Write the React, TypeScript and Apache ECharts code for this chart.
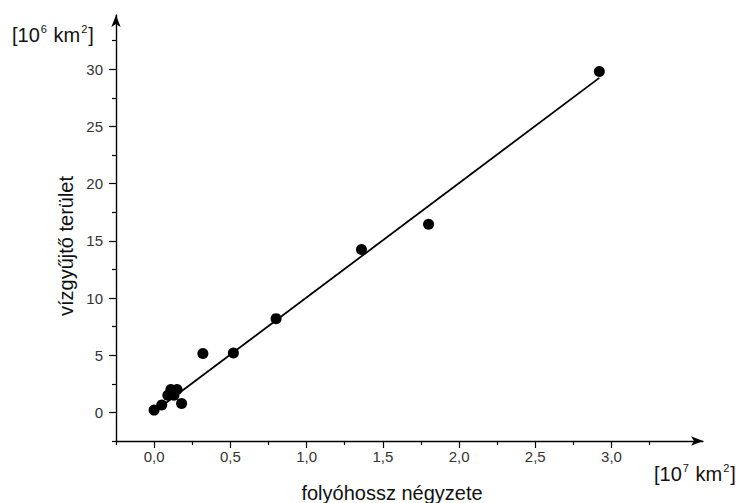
import React, { useEffect, useRef } from "react";
import * as echarts from "echarts";

// Squared river length [10^7 km^2] vs. catchment area [10^6 km^2]
const riverLengthSq = [0.0, 0.05, 0.09, 0.11, 0.15, 0.13, 0.18, 0.32, 0.52, 0.8, 1.36, 1.8, 2.92];
const catchmentArea = [0.2, 0.65, 1.5, 2.0, 2.0, 1.5, 0.78, 5.15, 5.2, 8.2, 14.25, 16.45, 29.8];

// Regression line: area = fitIntercept + fitSlope * lengthSq
const fitIntercept = 0.05;
const fitSlope = 10.0;
const fitRange = [0.0, 2.92];

// Axis ticks
const xMajorTicks = [0, 0.5, 1.0, 1.5, 2.0, 2.5, 3.0];
const xMinorTicks = [-0.25, 0.25, 0.75, 1.25, 1.75, 2.25, 2.75, 3.25];
const yMajorTicks = [0, 5, 10, 15, 20, 25, 30];
const yMinorTicks = [-2.5, 2.5, 7.5, 12.5, 17.5, 22.5, 27.5, 32.5];

const FONT = "'Liberation Sans', Arial, sans-serif";

export default function App() {
  const ref = useRef<HTMLDivElement>(null);

  useEffect(() => {
    if (!ref.current) return;
    const chart = echarts.init(ref.current, undefined, { renderer: "svg" });

    const points = riverLengthSq.map((x, i) => [x, catchmentArea[i]]);
    const fitLine = fitRange.map((x) => [x, fitIntercept + fitSlope * x]);

    const axisLineStyle = { color: "#000", width: 1.4 };
    const tickStyle = { color: "#000", width: 1.2 };
    const unitRich = {
      b: { fontFamily: FONT, fontSize: 20, fill: "#111", lineHeight: 24 },
      s: { fontFamily: FONT, fontSize: 11, fill: "#111", verticalAlign: "top", lineHeight: 24, padding: [0, 1, 0, 1] },
    };

    chart.setOption({
      animation: false,
      backgroundColor: "#fff",
      grid: { left: 116, right: 33, top: 15, bottom: 62, containLabel: false },
      xAxis: [
        {
          type: "value",
          position: "bottom",
          min: -0.25,
          max: 3.6,
          axisLine: {
            show: true,
            onZero: false,
            lineStyle: axisLineStyle,
            symbol: ["none", "arrow"],
            symbolSize: [7, 12],
          },
          axisTick: { show: true, customValues: xMinorTicks, length: 4, lineStyle: tickStyle },
          axisLabel: { show: false },
          splitLine: { show: false },
        },
        {
          type: "value",
          position: "bottom",
          offset: 0,
          min: -0.25,
          max: 3.6,
          axisLine: { show: false, onZero: false },
          axisTick: { show: true, customValues: xMajorTicks, length: 7, lineStyle: tickStyle },
          axisLabel: {
            show: true,
            customValues: xMajorTicks,
            margin: 8,
            fontFamily: FONT,
            fontSize: 15,
            color: "#333",
            formatter: (v: number) => v.toFixed(1).replace(".", ","),
          },
          splitLine: { show: false },
        },
      ],
      yAxis: [
        {
          type: "value",
          position: "left",
          min: -2.5,
          max: 34.75,
          axisLine: {
            show: true,
            onZero: false,
            lineStyle: axisLineStyle,
            symbol: ["none", "arrow"],
            symbolSize: [7, 12],
          },
          axisTick: { show: true, customValues: yMinorTicks, length: 4, lineStyle: tickStyle },
          axisLabel: { show: false },
          splitLine: { show: false },
        },
        {
          type: "value",
          position: "left",
          offset: 0,
          min: -2.5,
          max: 34.75,
          axisLine: { show: false, onZero: false },
          axisTick: { show: true, customValues: yMajorTicks, length: 7, lineStyle: tickStyle },
          axisLabel: {
            show: true,
            customValues: yMajorTicks,
            margin: 13,
            fontFamily: FONT,
            fontSize: 15,
            color: "#333",
          },
          splitLine: { show: false },
        },
      ],
      series: [
        {
          type: "line",
          data: fitLine,
          xAxisIndex: 0,
          yAxisIndex: 0,
          showSymbol: false,
          lineStyle: { color: "#000", width: 1.8 },
          z: 2,
        },
        {
          type: "scatter",
          data: points,
          xAxisIndex: 0,
          yAxisIndex: 0,
          symbol: "circle",
          symbolSize: 11,
          itemStyle: { color: "#000", opacity: 1 },
          z: 3,
        },
      ],
      graphic: [
        {
          type: "text",
          x: 66,
          y: 246,
          rotation: Math.PI / 2,
          style: {
            text: "vízgyűjtő terület",
            fontFamily: FONT,
            fontSize: 20,
            fill: "#111",
            align: "center",
            verticalAlign: "middle",
          },
        },
        {
          type: "text",
          x: 392,
          y: 493,
          style: {
            text: "folyóhossz négyzete",
            fontFamily: FONT,
            fontSize: 20,
            fill: "#111",
            align: "center",
            verticalAlign: "middle",
          },
        },
        {
          type: "text",
          x: 12,
          y: 35,
          style: {
            text: "{b|[10}{s|6}{b| km}{s|2}{b|]}",
            fontFamily: FONT,
            verticalAlign: "middle",
            rich: unitRich,
          },
        },
        {
          type: "text",
          x: 654,
          y: 474,
          style: {
            text: "{b|[10}{s|7}{b| km}{s|2}{b|]}",
            fontFamily: FONT,
            verticalAlign: "middle",
            rich: unitRich,
          },
        },
      ],
    });

    return () => chart.dispose();
  }, []);

  return (
    <div
      ref={ref}
      style={{ position: "fixed", left: 0, top: 0, width: 736, height: 503, background: "#fff" }}
    />
  );
}
